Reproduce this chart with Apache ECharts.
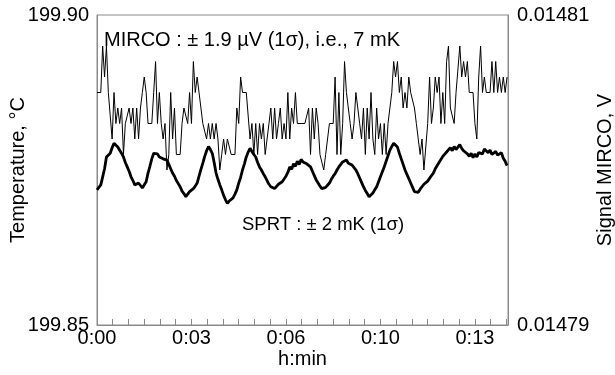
<!DOCTYPE html>
<html><head><meta charset="utf-8">
<script src="https://cdn.jsdelivr.net/npm/echarts@6/dist/echarts.min.js"></script>
<style>html,body{margin:0;padding:0;background:#fff}#c{width:615px;height:375px}</style>
</head><body><div id="c"></div>
<script>
// sampling period of both records, seconds
const sampleStepSeconds = 4;

// SPRT temperature, °C (left axis)
const sprtTemperature = [
199.8718,199.8720,199.8726,199.8739,199.8752,199.8771,199.8769,199.8777,199.8786,199.8793,
199.8790,199.8787,199.8782,199.8777,199.8771,199.8762,199.8755,199.8748,199.8739,199.8733,
199.8726,199.8723,199.8729,199.8726,199.8721,199.8720,199.8731,199.8745,199.8756,199.8768,
199.8777,199.8780,199.8776,199.8771,199.8774,199.8768,199.8769,199.8766,199.8759,199.8752,
199.8745,199.8740,199.8733,199.8728,199.8723,199.8716,199.8712,199.8707,199.8711,199.8715,
199.8713,199.8720,199.8724,199.8729,199.8740,199.8751,199.8761,199.8772,199.8781,199.8788,
199.8783,199.8777,199.8762,199.8745,199.8735,199.8726,199.8718,199.8709,199.8702,199.8696,
199.8700,199.8699,199.8705,199.8711,199.8718,199.8729,199.8738,199.8750,199.8760,199.8771,
199.8779,199.8785,199.8780,199.8775,199.8771,199.8762,199.8755,199.8750,199.8744,199.8739,
199.8733,199.8727,199.8723,199.8726,199.8720,199.8723,199.8727,199.8725,199.8731,199.8731,
199.8740,199.8746,199.8755,199.8751,199.8760,199.8756,199.8764,199.8759,199.8767,199.8763,
199.8763,199.8760,199.8757,199.8755,199.8748,199.8741,199.8734,199.8729,199.8724,199.8720,
199.8718,199.8722,199.8725,199.8729,199.8735,199.8740,199.8744,199.8750,199.8755,199.8759,
199.8763,199.8760,199.8766,199.8761,199.8763,199.8758,199.8755,199.8750,199.8744,199.8737,
199.8730,199.8723,199.8717,199.8712,199.8707,199.8709,199.8713,199.8718,199.8723,199.8731,
199.8739,199.8747,199.8755,199.8764,199.8773,199.8782,199.8788,199.8793,199.8796,199.8787,
199.8777,199.8768,199.8759,199.8750,199.8743,199.8736,199.8729,199.8722,199.8715,199.8717,
199.8714,199.8719,199.8720,199.8727,199.8726,199.8732,199.8733,199.8741,199.8745,199.8752,
199.8753,199.8762,199.8765,199.8772,199.8771,199.8779,199.8778,199.8786,199.8781,199.8788,
199.8783,199.8784,199.8791,199.8785,199.8781,199.8780,199.8776,199.8772,199.8777,199.8770,
199.8776,199.8771,199.8778,199.8781,199.8776,199.8784,199.8781,199.8778,199.8782,199.8775,
199.8778,199.8780,199.8774,199.8775,199.8778,199.8769,199.8764,199.8757
];

// MIRCO signal, V (right axis)
const mircoSignal = [
0.014805,0.014805,0.014805,0.014808,0.014806,0.014808,0.014805,0.014805,0.014802,0.014805,
0.014803,0.014804,0.014803,0.014804,0.014801,0.014803,0.014803,0.014804,0.014803,0.014804,
0.014802,0.014804,0.014802,0.014804,0.014805,0.014806,0.014805,0.014803,0.014803,0.014803,
0.014805,0.014807,0.014803,0.014805,0.014803,0.014802,0.014803,0.014800,0.014801,0.014805,
0.014802,0.014804,0.014801,0.014801,0.014801,0.014803,0.014804,0.014804,0.014803,0.014805,
0.014803,0.014807,0.014805,0.014806,0.014806,
0.014804,0.014803,0.014803,0.014802,0.014803,0.014802,0.014803,0.014802,0.014803,0.014802,
0.014800,0.014801,0.014802,0.014801,0.014802,0.014802,0.014801,0.014801,0.014801,0.014804,
0.014803,0.014806,0.014805,0.014805,0.014805,0.014805,0.014802,0.014803,0.014801,0.014803,
0.014801,0.014803,0.014802,0.014803,0.014801,0.014802,0.014803,0.014804,0.014802,0.014804,
0.014802,0.014803,0.014804,0.014802,0.014803,0.014802,0.014805,0.014802,0.014804,0.014803,
0.014805,0.014803,0.014803,0.014803,0.014803,0.014803,
0.014803,0.014804,0.014801,0.014804,0.014802,0.014804,0.014803,0.014801,0.014801,0.014800,
0.014801,0.014801,0.014803,0.014803,0.014803,0.014806,0.014801,0.014805,0.014801,0.014803,
0.014807,0.014805,0.014804,0.014803,0.014802,0.014803,0.014805,0.014805,0.014803,0.014802,
0.014804,0.014801,0.014804,0.014802,0.014805,0.014802,0.014801,0.014804,0.014802,0.014803,
0.014801,0.014803,0.014801,0.014803,0.014804,0.014805,0.014807,0.014806,0.014807,0.014805,
0.014806,0.014804,0.014805,0.014804,0.014806,
0.014805,0.014805,0.014804,0.014803,0.014802,0.014801,0.014802,0.014800,0.014800,0.014803,
0.014806,0.014803,0.014804,0.014806,0.014805,0.014806,0.014803,0.014805,0.014803,0.014807,
0.014808,0.014804,0.014804,0.014803,0.014805,0.014805,0.014808,0.014806,0.014807,0.014806,
0.014807,0.014805,0.014805,0.014805,0.014803,0.014802,0.014806,0.014808,0.014805,0.014806,
0.014805,0.014805,0.014805,0.014807,0.014805,0.014807,0.014805,0.014806,0.014805,0.014806,
0.014805,0.014806
];

// axis settings (seconds on x)
const xRange = [0, 870];
const xLabelEvery = 200;        // labelled ticks: 0:00 0:03 0:06 0:10 0:13
const xTickEvery = 100 / 3;      // small ticks
const leftRange = [199.85, 199.90];
const rightRange = [0.01479, 0.01481];

const FONT = 'Liberation Sans, Arial, Helvetica, sans-serif';
const AXIS_GREY = '#8a8a8a';

const times = sprtTemperature.map((_, i) => i * sampleStepSeconds);
const sprtData = times.map((t, i) => [t, sprtTemperature[i]]);
const mircoData = times.map((t, i) => [t, mircoSignal[i]]);

const chart = echarts.init(document.getElementById('c'), null, {renderer: 'canvas'});
chart.setOption({
  animation: false,
  backgroundColor: '#fff',
  grid: {left: 97, right: 107, top: 15, bottom: 50, show: true, containLabel: false,
         outerBoundsMode: 'none',
         borderColor: AXIS_GREY, borderWidth: 1, backgroundColor: 'transparent'},
  xAxis: {
    type: 'value', min: xRange[0], max: xRange[1], interval: xTickEvery,
    axisLine: {show: true, lineStyle: {color: AXIS_GREY, width: 1}},
    axisTick: {show: true, inside: true, length: 6, lineStyle: {color: AXIS_GREY}},
    splitLine: {show: false},
    axisLabel: {
      color: '#000', fontSize: 20, fontFamily: FONT, margin: 3, showMaxLabel: false,
      formatter: v => {
        const r = v / xLabelEvery;
        if (Math.abs(r - Math.round(r)) > 1e-6) return '';
        const m = Math.floor(Math.round(v) / 60);
        return '0:' + (m < 10 ? '0' + m : '' + m);
      }
    },
    name: 'h:min', nameLocation: 'middle', nameGap: 24, nameMoveOverlap: false,
    nameTextStyle: {color: '#000', fontSize: 20, fontFamily: FONT}
  },
  yAxis: [
    {
      type: 'value', position: 'left', min: leftRange[0], max: leftRange[1], interval: 0.05,
      axisLine: {show: true, lineStyle: {color: AXIS_GREY}},
      axisTick: {show: false}, splitLine: {show: false},
      axisLabel: {color: '#000', fontSize: 20, fontFamily: FONT, margin: 8,
                  formatter: v => v.toFixed(2)},
      name: 'Temperature, °C', nameLocation: 'middle', nameGap: 69, nameRotate: 90,
      nameMoveOverlap: false,
      nameTextStyle: {color: '#000', fontSize: 20, fontFamily: FONT}
    },
    {
      type: 'value', position: 'right', min: rightRange[0], max: rightRange[1], interval: 0.00001,
      axisLine: {show: true, lineStyle: {color: AXIS_GREY}},
      axisTick: {show: false}, splitLine: {show: false},
      axisLabel: {color: '#000', fontSize: 20, fontFamily: FONT, margin: 9,
                  formatter: v => (Math.abs(v - 0.01480) < 1e-9 ? '' : v.toFixed(5))},
      name: 'Signal MIRCO, V', nameLocation: 'middle', nameGap: 87, nameRotate: 90,
      nameMoveOverlap: false,
      nameTextStyle: {color: '#000', fontSize: 20, fontFamily: FONT}
    }
  ],
  series: [
    {name: 'SPRT', type: 'line', yAxisIndex: 0, data: sprtData, symbol: 'none',
     lineStyle: {color: '#000', width: 2.8}, z: 2},
    {name: 'MIRCO', type: 'line', yAxisIndex: 1, data: mircoData, symbol: 'none',
     lineStyle: {color: '#000', width: 1}, z: 3}
  ],
  graphic: [
    {type: 'text', left: 104, top: 30, z: 10,
     style: {text: 'MIRCO : ± 1.9 µV (1σ), i.e., 7 mK', font: '20px ' + FONT, fill: '#000'}},
    {type: 'text', left: 242, top: 215, z: 10,
     style: {text: 'SPRT : ± 2 mK (1σ)', font: '18.5px ' + FONT, fill: '#000'}}
  ]
});
</script>
</body></html>
